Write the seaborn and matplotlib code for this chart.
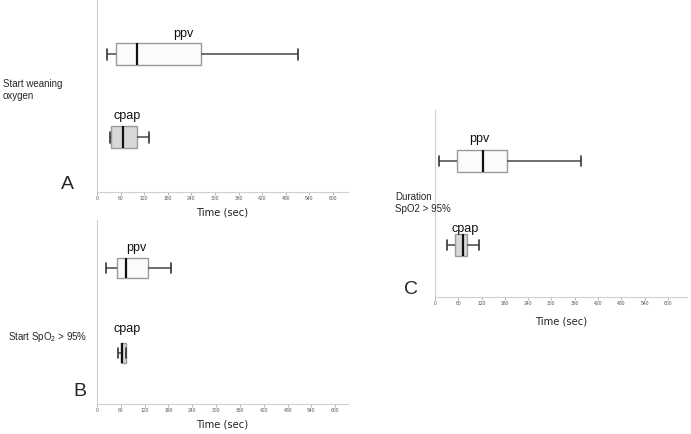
import numpy as np
import pandas as pd
import matplotlib.pyplot as plt
import seaborn as sns

# five-number summaries (min, Q1, median, Q3, max), seconds
groups = ['ppv', 'cpap']
a_ppv = [25, 48, 102, 264, 511]
a_cpap = [32, 35, 66, 102, 133]
b_ppv = [22, 51, 73, 129, 187]
b_cpap = [52, 61, 64, 73, 73]
c_ppv = [11, 56, 123, 185, 376]
c_cpap = [30, 52, 71, 82, 114]
x_ticks = list(range(0, 601, 60))

sns.set_theme(style='white')
plt.rcParams['font.family'] = ['Liberation Sans', 'DejaVu Sans']
plt.rcParams['mathtext.default'] = 'regular'

fig = plt.figure(figsize=(6.91, 4.34), dpi=100)

panels = [
    # values, axes rect, xlim, ylim, box width, label offsets (x sec, y), xlabel pad
    (a_ppv, a_cpap, [0.1404, 0.5576, 0.3632, 0.4424], 638, (-0.65, 1.66), 0.265,
     [(219, -0.24), (77, -0.25)], 4.5),
    (b_ppv, b_cpap, [0.1404, 0.0691, 0.3632, 0.4240], 632, (-0.565, 1.60), 0.235,
     [(100, -0.24), (75, -0.28)], 4.5),
    (c_ppv, c_cpap, [0.6295, 0.3157, 0.3647, 0.4310], 649, (-0.608, 1.619), 0.26,
     [(113, -0.26), (77, -0.19)], 7.5),
]

for ppv, cpap, rect, xmax, ylim, bw, labs, lpad in panels:
    ax = fig.add_axes(rect)
    df = pd.DataFrame({'group': ['ppv'] * len(ppv) + ['cpap'] * len(cpap),
                       'time': ppv + cpap})
    sns.boxplot(data=df, x='time', y='group', hue='group', order=groups,
                hue_order=groups, palette={'ppv': '#fbfbfb', 'cpap': '#d8d8d8'},
                whis=(0, 100), width=bw, legend=False, ax=ax, linewidth=1.0,
                boxprops={'edgecolor': '#9a9a9a'},
                whiskerprops={'color': '#555555', 'linewidth': 1.2},
                capprops={'color': '#333333', 'linewidth': 1.2},
                medianprops={'color': '#111111', 'linewidth': 1.6},
                showfliers=False)
    ax.set_xlim(0, xmax)
    ax.set_ylim(ylim[1], ylim[0])
    ax.set_ylabel('')
    ax.set_yticks([])
    ax.set_xticks(x_ticks)
    ax.tick_params(axis='x', labelsize=3.6, labelcolor='#555555', length=2,
                   width=0.5, color='#999999', pad=1.2, bottom=True)
    ax.set_xlabel('Time (sec)', fontsize=7.2, color='#222222', labelpad=lpad,
                  family=['DejaVu Sans'])
    for s in ['top', 'right']:
        ax.spines[s].set_visible(False)
    for s in ['left', 'bottom']:
        ax.spines[s].set_color('#d0d0d0')
        ax.spines[s].set_linewidth(0.8)
    for i, (g, (lx, ly)) in enumerate(zip(groups, labs)):
        ax.text(lx, i + ly, g, ha='center', va='center', fontsize=9, color='#111111')

# row titles and panel letters
fig.text(0.004, 0.793, 'Start weaning\noxygen', ha='left', va='center',
         fontsize=7, linespacing=1.3)
fig.text(0.097, 0.574, 'A', ha='center', va='center', fontsize=14)
fig.text(0.012, 0.224, 'Start SpO$_2$ > 95%', ha='left', va='center', fontsize=7)
fig.text(0.116, 0.097, 'B', ha='center', va='center', fontsize=14)
fig.text(0.572, 0.532, 'Duration\nSpO2 > 95%', ha='left', va='center',
         fontsize=7, linespacing=1.3)
fig.text(0.595, 0.332, 'C', ha='center', va='center', fontsize=14)

fig.savefig('out.png', dpi=100, facecolor='white')
